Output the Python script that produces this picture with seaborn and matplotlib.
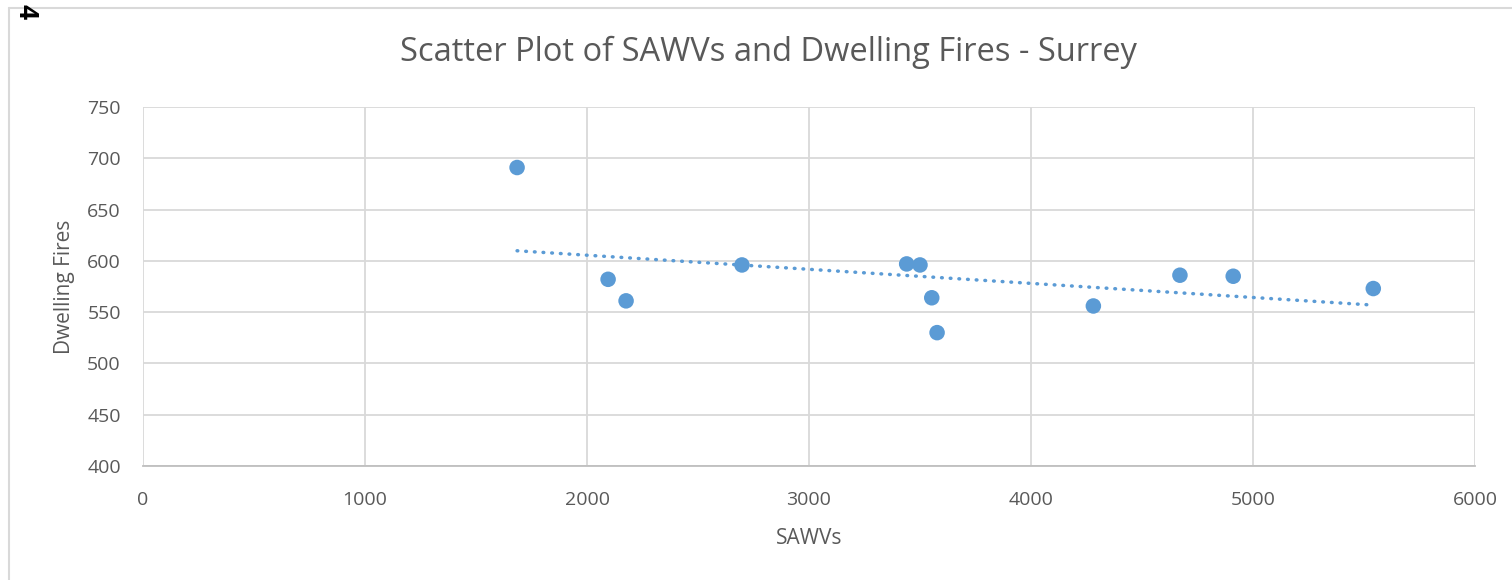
import pandas as pd
import numpy as np
import matplotlib
matplotlib.use("Agg")
import matplotlib.pyplot as plt
import seaborn as sns

sns.set_style("white")
plt.rcParams['font.family'] = ['Open Sans', 'DejaVu Sans']

# values
sawvs = [1685, 2095, 2176, 2698, 3440, 3500, 3553, 3577, 4281, 4671, 4911, 5542]
dwelling_fires = [691, 582, 561, 596, 597, 596, 564, 530, 556, 586, 585, 573]
x_ticks = [0, 1000, 2000, 3000, 4000, 5000, 6000]
y_ticks = [400, 450, 500, 550, 600, 650, 700, 750]

df = pd.DataFrame({"SAWVs": sawvs, "Dwelling Fires": dwelling_fires})

blue = "#5b9bd5"
grey_text = "#595959"

fig = plt.figure(figsize=(15.12, 5.8), dpi=100)
ax = fig.add_axes([0.0946, 0.1966, 0.8809, 0.6189])

sns.regplot(data=df, x="SAWVs", y="Dwelling Fires", ax=ax, ci=None,
            scatter_kws=dict(s=125, color=blue, edgecolor="none", alpha=1, zorder=3),
            line_kws=dict(color=blue, linestyle=(0, (0.2, 2.3)), linewidth=2.5,
                          dash_capstyle="round", zorder=2))

ax.set_xlim(0, 6000)
ax.set_ylim(400, 750)
ax.set_xticks(x_ticks)
ax.set_yticks(y_ticks)
ax.grid(True, color="#d9d9d9", linewidth=1.3)
ax.set_axisbelow(True)
for side in ["top", "right", "left"]:
    ax.spines[side].set_visible(False)
ax.spines["bottom"].set_color("#bfbfbf")
ax.spines["bottom"].set_linewidth(1.3)
ax.tick_params(length=0, labelsize=14, labelcolor=grey_text)
ax.tick_params(axis="x", pad=18)
ax.tick_params(axis="y", pad=16)

ax.set_xlabel("SAWVs", fontsize=15, color=grey_text, labelpad=14)
ax.set_ylabel("Dwelling Fires", fontsize=15, color=grey_text, labelpad=9)
fig.text(0.5085, 0.91, "Scatter Plot of SAWVs and Dwelling Fires - Surrey",
         ha="center", va="center", fontsize=23.5, color=grey_text)

# outer chart border (left and top edges visible in the crop)
fig.add_artist(plt.Line2D([9 / 1512, 9 / 1512], [0, 1 - 8 / 580], color="#d9d9d9", linewidth=1.5))
fig.add_artist(plt.Line2D([9 / 1512, 1], [1 - 8 / 580, 1 - 8 / 580], color="#d9d9d9", linewidth=1.5))
fig.text(26 / 1512, 1 - 12 / 580, "4", rotation=-90, ha="center", va="center",
         fontsize=19, fontweight="bold", color="black")

fig.savefig("out.png", dpi=100)
